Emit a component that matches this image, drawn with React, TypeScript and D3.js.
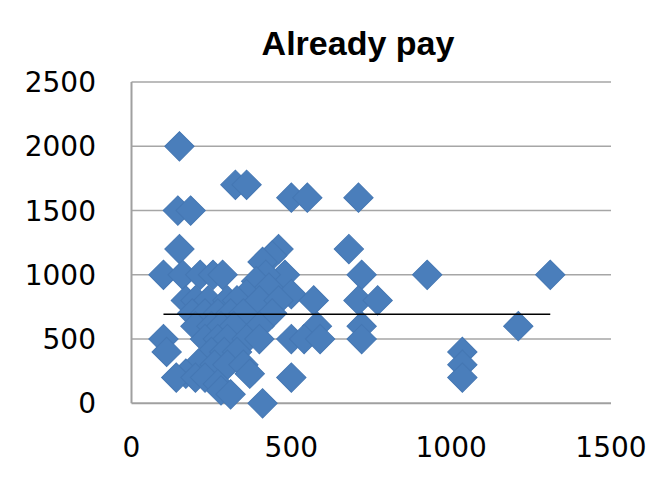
import React, { useRef, useEffect } from "react";
import * as d3 from "d3";

// amounts already paid: x = income-ish value, y = amount paid
const xValues = [
  150, 325, 360, 500, 550, 710, 145, 185, 150, 460, 680, 440, 410,
  100, 160, 215, 255, 285, 480, 720, 925, 1310, 420, 390, 430, 360, 500,
  170, 200, 240, 300, 330, 400, 460, 570, 710, 770,
  190, 230, 270, 310, 350, 440,
  200, 250, 280, 320, 400, 580, 720, 1210,
  100, 230, 270, 300, 360, 400, 500, 540, 590, 720,
  110, 250, 290, 330, 1035,
  210, 260, 300, 350, 1035,
  170, 370, 140, 200, 230, 500, 1035,
  270, 280, 310, 410,
];
const yValues = [
  2000, 1700, 1700, 1600, 1600, 1600, 1500, 1500, 1200, 1200, 1200, 1150, 1100,
  1000, 1000, 1000, 1000, 1000, 1000, 1000, 1000, 1000, 1000, 950, 900, 850, 850,
  800, 800, 800, 800, 800, 800, 800, 800, 800, 800,
  700, 700, 700, 700, 700, 700,
  600, 600, 600, 600, 600, 600, 600, 600,
  500, 500, 500, 500, 500, 500, 500, 500, 500, 500,
  400, 400, 400, 400, 400,
  310, 300, 300, 300, 300,
  230, 230, 200, 200, 200, 200, 200,
  150, 100, 70, 0,
];
const meanPay = 693;
const xTicks = [0, 500, 1000, 1500];
const yTicks = [0, 500, 1000, 1500, 2000, 2500];
const title = "Already pay";

const App = () => {
  const svgRef = useRef<SVGSVGElement | null>(null);

  useEffect(() => {
    if (!svgRef.current) return;
    const svg = d3.select(svgRef.current);
    svg.selectAll("*").remove();

    const left = 131.5;
    const right = 611;
    const top = 82;
    const bottom = 403.3;

    const x = d3.scaleLinear().domain([0, 1500]).range([left, right]);
    const y = d3.scaleLinear().domain([0, 2500]).range([bottom, top]);

    // gridlines
    svg
      .append("g")
      .selectAll("line")
      .data(yTicks.filter((t) => t > 0))
      .enter()
      .append("line")
      .attr("x1", left)
      .attr("x2", right)
      .attr("y1", (d) => y(d))
      .attr("y2", (d) => y(d))
      .attr("stroke", "#a6a6a6")
      .attr("stroke-width", 1.5);

    // axis lines
    svg
      .append("line")
      .attr("x1", left)
      .attr("x2", left)
      .attr("y1", top)
      .attr("y2", bottom)
      .attr("stroke", "#a0a0a0")
      .attr("stroke-width", 2);
    svg
      .append("line")
      .attr("x1", left)
      .attr("x2", right)
      .attr("y1", bottom)
      .attr("y2", bottom)
      .attr("stroke", "#a0a0a0")
      .attr("stroke-width", 2);

    // tick labels
    svg
      .append("g")
      .selectAll("text")
      .data(yTicks)
      .enter()
      .append("text")
      .attr("x", 96)
      .attr("y", (d) => y(d))
      .attr("dy", "0.36em")
      .attr("text-anchor", "end")
      .style("font-family", "DejaVu Sans")
      .style("font-size", "28px")
      .text((d) => d);

    svg
      .append("g")
      .selectAll("text")
      .data(xTicks)
      .enter()
      .append("text")
      .attr("x", (d) => x(d))
      .attr("y", 457)
      .attr("text-anchor", "middle")
      .style("font-family", "DejaVu Sans")
      .style("font-size", "28px")
      .text((d) => d);

    // title
    svg
      .append("text")
      .attr("x", 358)
      .attr("y", 55)
      .attr("text-anchor", "middle")
      .style("font-family", "Liberation Sans")
      .style("font-weight", "bold")
      .style("font-size", "34px")
      .text(title);

    // markers
    const data = xValues.map((v, i) => ({ x: v, y: yValues[i] }));
    const diamond = d3.symbol().type(d3.symbolSquare).size(430);
    svg
      .append("g")
      .selectAll("path")
      .data(data)
      .enter()
      .append("path")
      .attr("d", diamond())
      .attr("transform", (d) => `translate(${x(d.x)},${y(d.y)}) rotate(45)`)
      .attr("fill", "#4a7ebb")
      .attr("stroke", "#4577b3")
      .attr("stroke-width", 1);

    // mean line across the data range
    const [xMin, xMax] = d3.extent(xValues) as [number, number];
    svg
      .append("line")
      .attr("x1", x(xMin))
      .attr("x2", x(xMax))
      .attr("y1", y(meanPay))
      .attr("y2", y(meanPay))
      .attr("stroke", "#000")
      .attr("stroke-width", 1.5);
  }, []);

  return (
    <svg
      ref={svgRef}
      width={667}
      height={494}
      style={{ position: "absolute", left: 0, top: 0, background: "#fff" }}
    ></svg>
  );
};

export default App;
